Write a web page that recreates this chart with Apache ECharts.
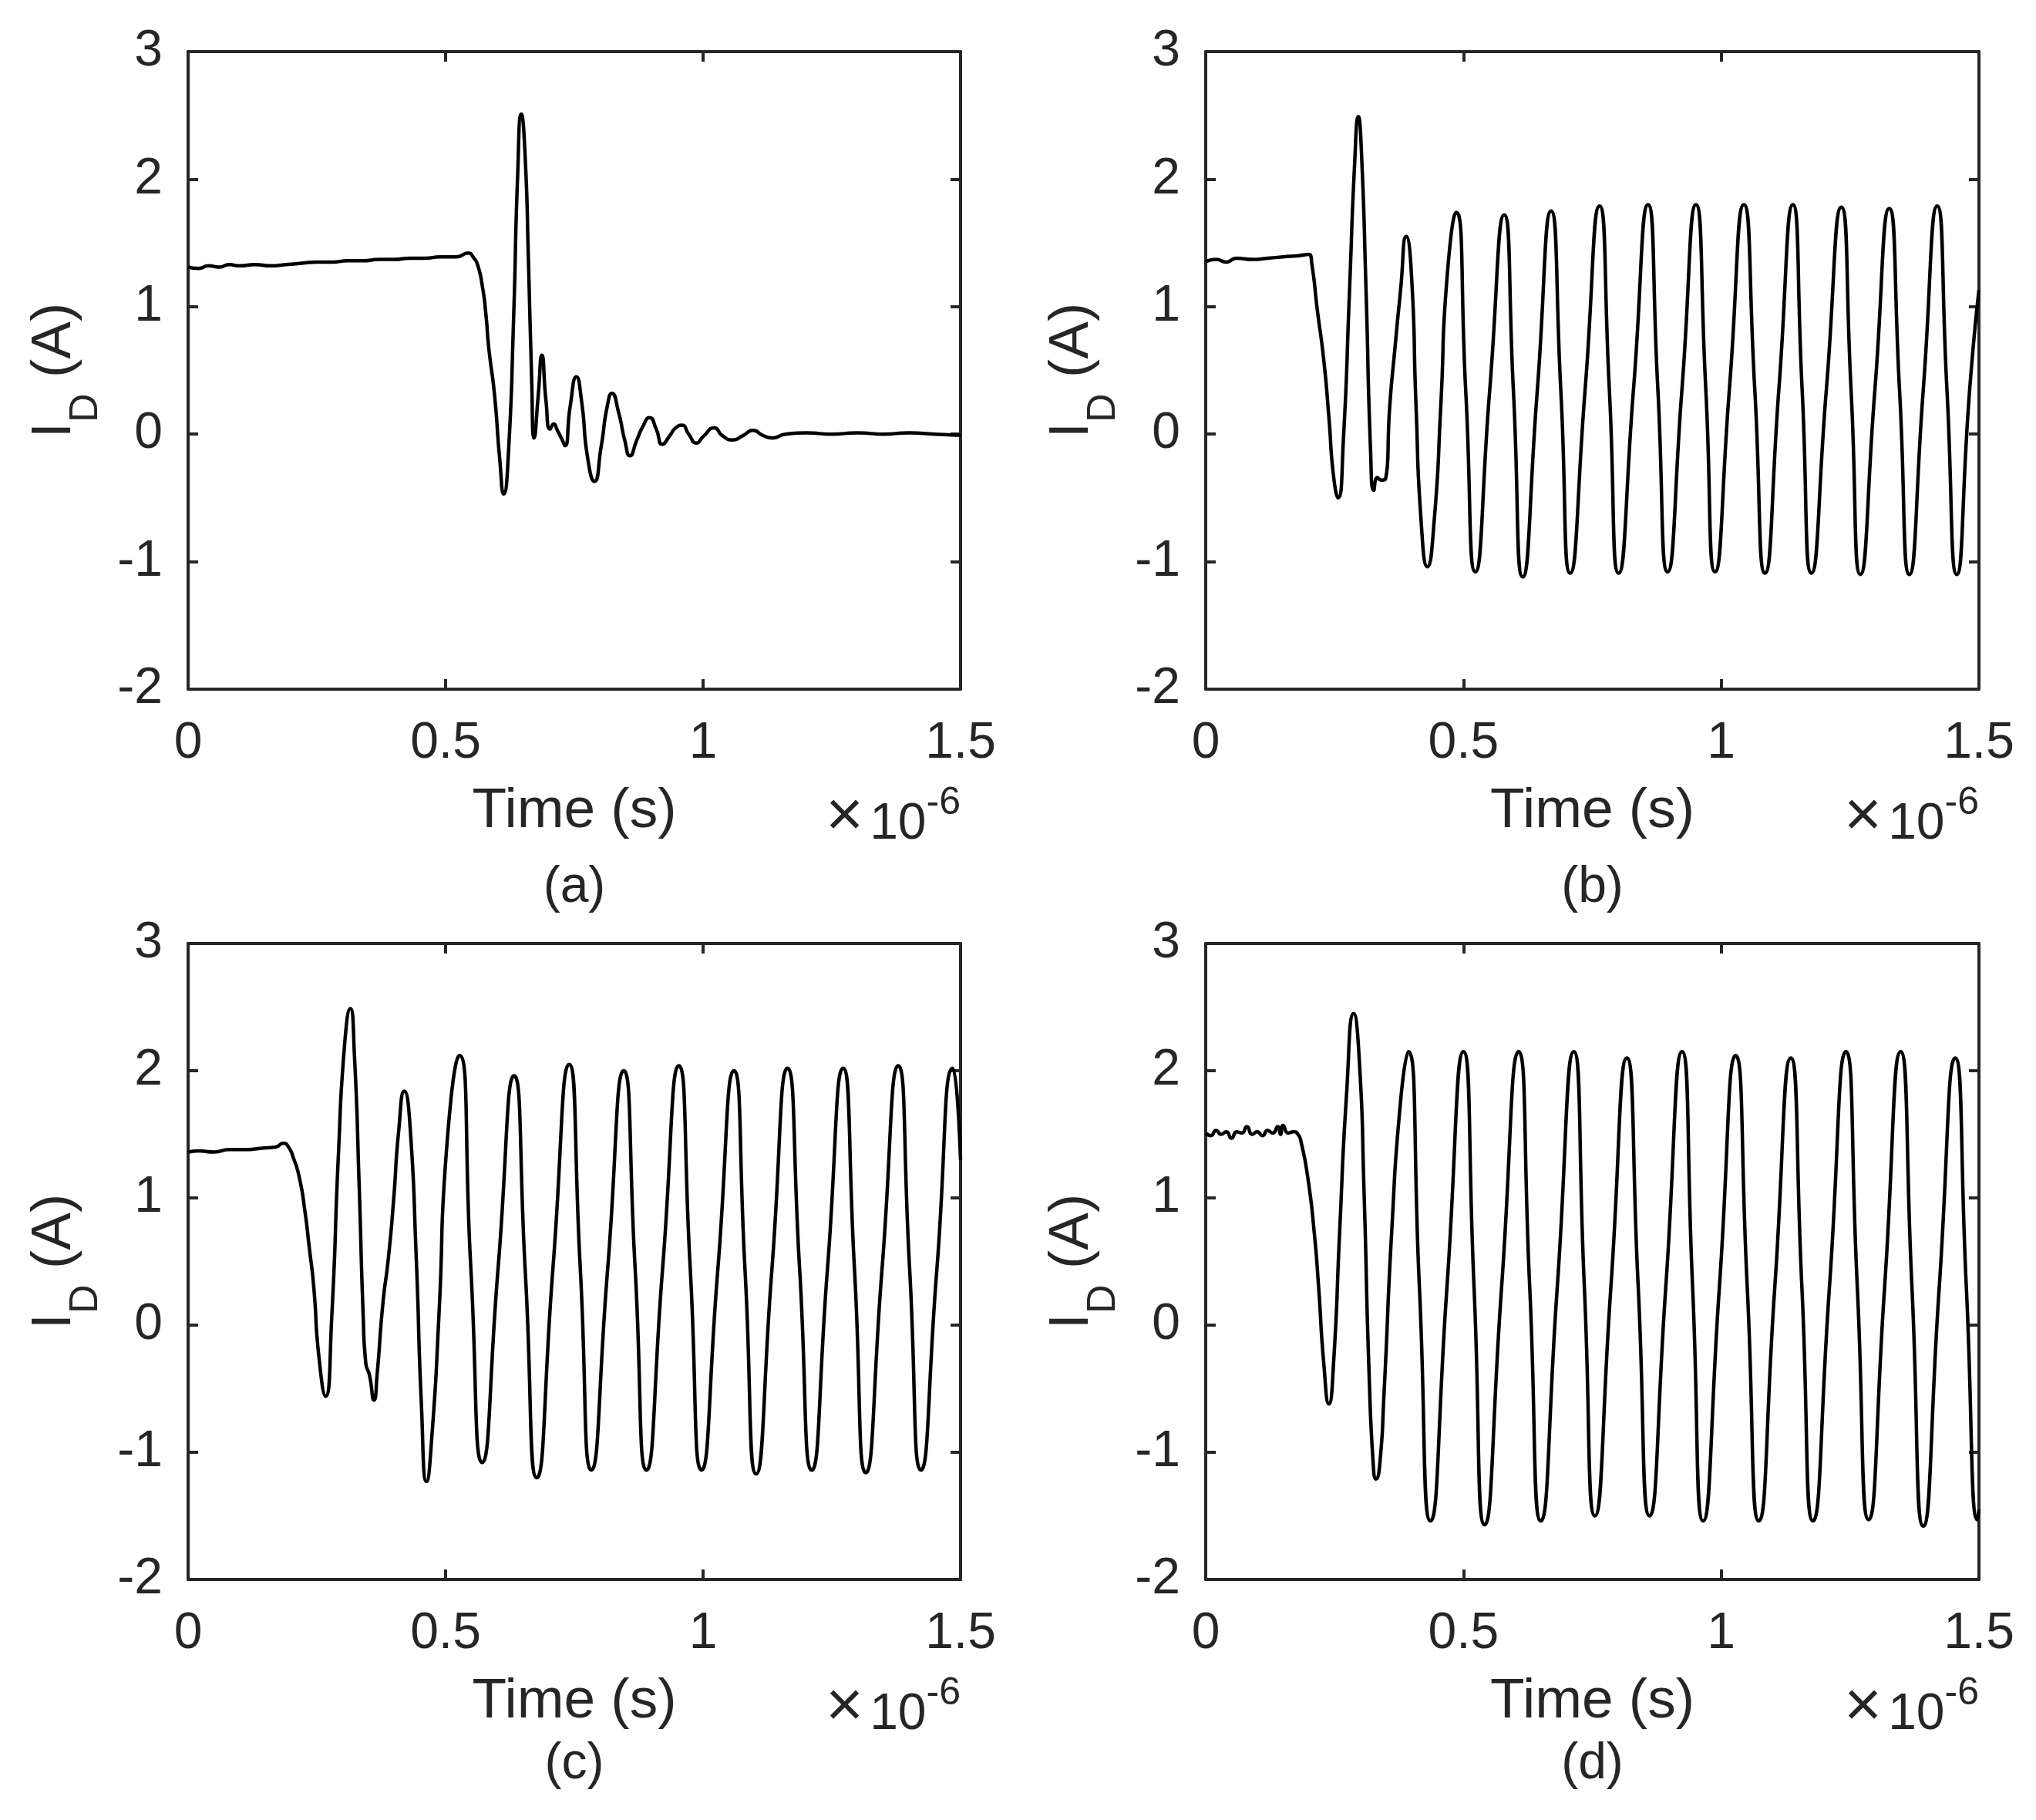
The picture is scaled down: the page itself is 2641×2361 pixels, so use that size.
<!DOCTYPE html>
<html>
<head>
<meta charset="utf-8">
<script src="https://cdn.jsdelivr.net/npm/echarts@6/dist/echarts.min.js"></script>
<style>
html, body { margin: 0; padding: 0; background: #fff; }
#main { width: 2641px; height: 2361px; }
</style>
</head>
<body>
<div id="main"></div>
<script>
// time in units of 1e-6 s, drain current I_D in A
var panelA = [
    [0,1.31],[0.02,1.30],[0.04,1.32],[0.06,1.31],[0.08,1.33],[0.1,1.32],[0.13,1.33],[0.16,1.32],
    [0.19,1.33],[0.22,1.34],[0.25,1.35],[0.28,1.35],[0.31,1.36],[0.34,1.36],[0.37,1.37],[0.4,1.37],
    [0.43,1.38],[0.46,1.38],[0.49,1.39],[0.52,1.39],[0.544,1.42],[0.555,1.38],[0.562,1.33],[0.571,1.17],
    [0.578,0.95],[0.584,0.67],[0.595,0.31],[0.605,-0.19],[0.613,-0.47],[0.622,-0.15],[0.632,0.9],[0.64,2.04],
    [0.647,2.51],[0.654,2.22],[0.661,1.35],[0.667,0.45],[0.672,-0.03],[0.68,0.31],[0.687,0.62],[0.695,0.26],
    [0.703,0.04],[0.71,0.08],[0.717,0.03],[0.727,-0.05],[0.732,-0.09],[0.742,0.22],[0.754,0.45],[0.764,0.26],
    [0.776,-0.19],[0.789,-0.37],[0.802,-0.1],[0.814,0.22],[0.823,0.32],[0.836,0.17],[0.848,-0.05],[0.858,-0.17],
    [0.871,-0.05],[0.883,0.06],[0.896,0.13],[0.909,0.04],[0.921,-0.08],[0.934,-0.02],[0.947,0.05],[0.959,0.07],
    [0.972,0.0],[0.987,-0.07],[1.0,-0.02],[1.022,0.05],[1.037,-0.01],[1.057,-0.045],[1.078,-0.01],[1.097,0.03],
    [1.116,-0.01],[1.135,-0.03],[1.16,0.0],[1.2,0.01],[1.25,0.0],[1.3,0.01],[1.35,0.0],[1.4,0.01],[1.45,0.0],[1.5,-0.01]
];
var panelB = [
    [0,1.35],[0.02,1.37],[0.04,1.35],[0.06,1.38],[0.09,1.37],[0.12,1.38],[0.15,1.39],[0.18,1.40],[0.2,1.41],
    [0.206,1.33],[0.216,0.99],[0.229,0.58],[0.239,0.13],[0.248,-0.33],[0.257,-0.5],[0.267,-0.05],[0.279,1.13],
    [0.289,2.13],[0.296,2.49],[0.302,2.22],[0.311,1.13],[0.32,-0.15],[0.326,-0.44],[0.333,-0.34],[0.34,-0.36],
    [0.349,-0.35],[0.357,0.22],[0.367,0.67],[0.378,1.13],[0.389,1.55],[0.399,1.26],[0.408,0.22],[0.418,-0.69],
    [0.43,-1.04],[0.443,-0.69],[0.456,0.22],[0.468,1.22],[0.486,1.74],
    [0.5045,0.33],[0.523,-1.08],[0.551,0.35],[0.579,1.72],[0.597,0.33],[0.615,-1.12],[0.643,0.33],[0.670,1.75],
    [0.689,0.33],[0.707,-1.09],[0.736,0.35],[0.764,1.79],[0.783,0.35],[0.801,-1.09],[0.830,0.36],[0.858,1.80],
    [0.877,0.36],[0.896,-1.08],[0.924,0.36],[0.951,1.80],[0.970,0.36],[0.988,-1.08],[1.016,0.36],[1.044,1.80],
    [1.065,0.36],[1.085,-1.09],[1.112,0.36],[1.139,1.80],[1.157,0.35],[1.175,-1.09],[1.204,0.35],[1.233,1.78],
    [1.252,0.34],[1.270,-1.10],[1.298,0.34],[1.326,1.77],[1.346,0.34],[1.365,-1.10],[1.392,0.35],[1.419,1.79],
    [1.438,0.34],[1.457,-1.10],[1.482,0.35],[1.5,1.13]
];
var panelC = [
    [0,1.36],[0.02,1.37],[0.05,1.36],[0.08,1.38],[0.11,1.38],[0.14,1.39],[0.17,1.40],[0.185,1.43],[0.195,1.40],
    [0.204,1.32],[0.216,1.16],[0.227,0.89],[0.235,0.62],[0.244,0.30],[0.254,-0.25],[0.267,-0.56],[0.279,0.07],
    [0.292,1.35],[0.304,2.21],[0.315,2.49],[0.323,2.12],[0.332,1.12],[0.34,0.07],[0.345,-0.3],[0.352,-0.39],
    [0.361,-0.59],[0.367,-0.39],[0.378,0.16],[0.389,0.53],[0.399,0.98],[0.409,1.53],[0.42,1.84],[0.43,1.62],
    [0.443,0.53],[0.453,-0.62],[0.463,-1.23],[0.474,-0.84],[0.487,0.07],[0.503,1.44],[0.527,2.12],
    [0.549,0.45],[0.571,-1.08],[0.602,0.45],[0.633,1.96],[0.655,0.40],[0.677,-1.20],[0.7085,0.45],[0.740,2.05],
    [0.7615,0.45],[0.783,-1.14],[0.8145,0.43],[0.846,2.00],[0.868,0.45],[0.890,-1.14],[0.9215,0.45],[0.953,2.04],
    [0.975,0.45],[0.997,-1.14],[1.0285,0.43],[1.060,2.00],[1.0815,0.43],[1.103,-1.17],[1.1335,0.43],[1.164,2.02],
    [1.1875,0.44],[1.211,-1.14],[1.2415,0.44],[1.272,2.02],[1.294,0.44],[1.316,-1.16],[1.3475,0.44],[1.379,2.04],
    [1.401,0.45],[1.423,-1.14],[1.454,0.44],[1.485,2.02],[1.5,1.3]
];
var panelD = [
    [0,1.51],[0.01,1.49],[0.02,1.53],[0.03,1.50],[0.04,1.52],[0.05,1.47],[0.06,1.52],[0.07,1.51],[0.08,1.56],
    [0.09,1.50],[0.10,1.52],[0.11,1.49],[0.12,1.53],[0.13,1.51],[0.14,1.56],[0.145,1.50],[0.15,1.57],[0.16,1.51],
    [0.17,1.52],[0.179,1.50],[0.185,1.44],[0.198,1.16],[0.21,0.75],[0.219,0.30],[0.229,-0.30],[0.239,-0.62],
    [0.248,-0.30],[0.26,0.75],[0.273,1.8],[0.287,2.45],[0.298,2.08],[0.307,1.07],[0.317,-0.39],[0.326,-1.16],
    [0.33,-1.21],[0.337,-1.12],[0.346,-0.53],[0.361,0.75],[0.378,1.76],[0.393,2.15],
    [0.4145,0.30],[0.436,-1.54],[0.468,0.30],[0.500,2.15],[0.5205,0.30],[0.541,-1.57],[0.574,0.30],[0.607,2.15],
    [0.6285,0.30],[0.650,-1.54],[0.682,0.30],[0.714,2.15],[0.7345,0.30],[0.755,-1.50],[0.786,0.30],[0.817,2.10],
    [0.839,0.30],[0.861,-1.50],[0.8925,0.30],[0.924,2.15],[0.9445,0.30],[0.965,-1.54],[0.9965,0.30],[1.028,2.12],
    [1.0505,0.30],[1.073,-1.54],[1.104,0.30],[1.135,2.10],[1.1565,0.30],[1.178,-1.54],[1.210,0.30],[1.242,2.15],
    [1.264,0.30],[1.286,-1.53],[1.317,0.30],[1.348,2.15],[1.370,0.30],[1.392,-1.58],[1.423,0.30],[1.454,2.10],
    [1.4755,0.30],[1.497,-1.53],[1.5,-1.45]
];
var panels = [panelA, panelB, panelC, panelD];
var panelTags = ['(a)', '(b)', '(c)', '(d)'];

var boxes = [
    {left: 244, top: 67, width: 1002, height: 827},
    {left: 1564, top: 67, width: 1003, height: 827},
    {left: 244, top: 1224, width: 1002, height: 825},
    {left: 1564, top: 1224, width: 1003, height: 825}
];
var tagGap = [258, 258, 240, 240];

var ink = '#262626';
var face = '"Liberation Sans", Arial, Helvetica, sans-serif';
var edge = {onZero: false, lineStyle: {color: ink, width: 4}};
var tick = {inside: true, length: 13, lineStyle: {color: ink, width: 4}};

var myChart = echarts.init(document.getElementById('main'));
var option = {
    backgroundColor: '#fff',
    animation: false,
    grid: [],
    xAxis: [],
    yAxis: [],
    series: [],
    graphic: []
};

panels.forEach(function (data, i) {
    var b = boxes[i];
    option.grid.push({left: b.left, top: b.top, width: b.width, height: b.height});
    // bottom axis with labels, top axis just for the box and ticks
    option.xAxis.push({
        type: 'value', gridIndex: i, position: 'bottom',
        min: 0, max: 1.5, interval: 0.5,
        axisLine: edge, axisTick: tick, splitLine: {show: false},
        axisLabel: {fontSize: 66, color: ink, fontFamily: face, margin: 71, verticalAlign: 'middle'},
        name: 'Time (s)', nameLocation: 'middle', nameGap: 159,
        nameTextStyle: {fontSize: 73, color: ink, fontFamily: face, verticalAlign: 'middle'}
    });
    option.xAxis.push({
        type: 'value', gridIndex: i, position: 'top',
        min: 0, max: 1.5, interval: 0.5,
        axisLine: edge, axisTick: tick, splitLine: {show: false},
        axisLabel: {show: false}
    });
    option.yAxis.push({
        type: 'value', gridIndex: i, position: 'left',
        min: -2, max: 3, interval: 1,
        axisLine: edge, axisTick: tick, splitLine: {show: false},
        axisLabel: {fontSize: 66, color: ink, fontFamily: face, margin: 33},
        name: '{a|I}{b|D}{a| (A)}', nameLocation: 'middle', nameGap: 158,
        nameTextStyle: {
            color: ink, fontFamily: face, fontSize: 73, verticalAlign: 'middle',
            rich: {
                a: {fontSize: 73, fontFamily: face, color: ink, verticalAlign: 'top'},
                b: {fontSize: 52, fontFamily: face, color: ink, verticalAlign: 'bottom', lineHeight: 104}
            }
        }
    });
    option.yAxis.push({
        type: 'value', gridIndex: i, position: 'right',
        min: -2, max: 3, interval: 1,
        axisLine: edge, axisTick: tick, splitLine: {show: false},
        axisLabel: {show: false}
    });
    option.series.push({
        type: 'line',
        xAxisIndex: 2 * i, yAxisIndex: 2 * i,
        data: data,
        showSymbol: false,
        smooth: 0.6,
        lineStyle: {color: '#000', width: 4.5}
    });
    var bottom = b.top + b.height;
    option.graphic.push({
        type: 'text',
        x: b.left + b.width, y: bottom + 123,
        style: {
            text: '{x|×}{a|10}{b|-6}',
            align: 'right', verticalAlign: 'top',
            fill: ink, font: '66px ' + face,
            rich: {
                x: {fontSize: 84, fontFamily: face, fill: ink, verticalAlign: 'bottom', lineHeight: 86, padding: [0, 8, 0, 0]},
                a: {fontSize: 66, fontFamily: face, fill: ink, verticalAlign: 'bottom', lineHeight: 86},
                b: {fontSize: 50, fontFamily: face, fill: ink, verticalAlign: 'top'}
            }
        }
    });
    option.graphic.push({
        type: 'text',
        x: b.left + b.width / 2, y: bottom + tagGap[i],
        style: {
            text: panelTags[i],
            align: 'center', verticalAlign: 'middle',
            fill: ink, font: '66px ' + face
        }
    });
});

myChart.setOption(option);
</script>
</body>
</html>
